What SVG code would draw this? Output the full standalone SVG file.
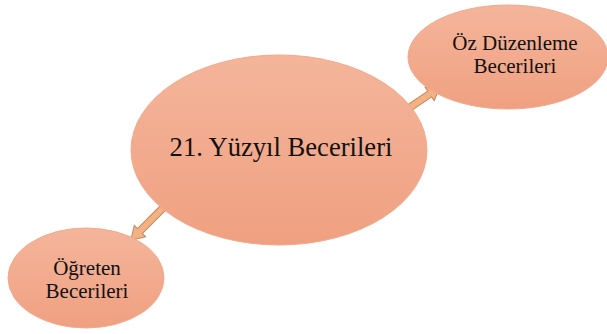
<svg xmlns="http://www.w3.org/2000/svg" width="607" height="334" viewBox="0 0 607 334">
  <defs>
    <linearGradient id="bubble" x1="0" y1="0" x2="0" y2="1">
      <stop offset="0" stop-color="#F4B59B"/>
      <stop offset="1" stop-color="#F0A081"/>
    </linearGradient>
    <style>
      .node ellipse { fill: url(#bubble); stroke: #F2A98C; stroke-width: 1; }
      .label { fill: #111; text-anchor: middle; }
      .arrow { fill: #F4B183; stroke: #C7845A; stroke-width: 1; stroke-linejoin: miter; }
    </style>
  </defs>
  <rect width="607" height="334" fill="#FFFFFF"/>

  <!-- connectors: block arrows from the centre topic -->
  <g id="connectors">
    <g transform="translate(409,108) rotate(-34)">
      <polygon class="arrow" points="0,-3.5 25,-3.5 25,-8 37,0 25,8 25,3.5 0,3.5"/>
    </g>
    <g transform="translate(164,207) rotate(135)">
      <polygon class="arrow" points="0,-3.5 34,-3.5 34,-8 47,0 34,8 34,3.5 0,3.5"/>
    </g>
  </g>

  <g font-family="'Liberation Serif', 'Times New Roman', 'DejaVu Serif', serif">
    <g id="node-center" class="node">
      <ellipse cx="279" cy="150" rx="148" ry="95"/>
      <text class="label" x="281" y="156" font-size="26.6">21. Yüzyıl Becerileri</text>
    </g>

    <g id="node-oz-duzenleme" class="node">
      <ellipse cx="508" cy="57" rx="100" ry="52"/>
      <text class="label" x="515" y="50" font-size="21">Öz Düzenleme</text>
      <text class="label" x="515" y="73" font-size="21">Becerileri</text>
    </g>

    <g id="node-ogreten" class="node">
      <ellipse cx="86" cy="278" rx="78" ry="50"/>
      <text class="label" x="87" y="275" font-size="21">Öğreten</text>
      <text class="label" x="87" y="298" font-size="21">Becerileri</text>
    </g>
  </g>
</svg>
